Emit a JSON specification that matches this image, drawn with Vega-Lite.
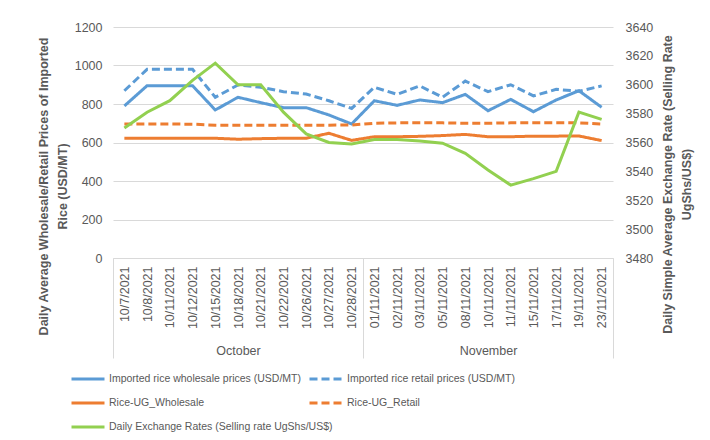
{
  "$schema": "https://vega.github.io/schema/vega-lite/v6.json",
  "width": 500,
  "height": 231,
  "autosize": {"type": "none"},
  "padding": {"left": 113, "top": 27, "right": 97, "bottom": 182},
  "config": {
    "font": "Liberation Sans",
    "view": {"stroke": null},
    "axis": {"labelColor": "#595959", "titleColor": "#595959", "labelFontSize": 12.5, "labelFont": "Liberation Sans", "titleFont": "Liberation Sans"},
    "legend": {"labelColor": "#595959", "labelFontSize": 10.5, "labelFont": "Liberation Sans"}
  },
  "data": {
    "values": [
      {"month": "October", "day": "Oct|10/7/2021", "Imported rice wholesale prices (USD/MT)": 790, "Imported rice retail prices (USD/MT)": 869, "Rice-UG_Wholesale": 622, "Rice-UG_Retail": 696, "Daily Exchange Rates (Selling rate UgShs/US$)": 3570},
      {"month": "October", "day": "Oct|10/8/2021", "Imported rice wholesale prices (USD/MT)": 895, "Imported rice retail prices (USD/MT)": 980, "Rice-UG_Wholesale": 622, "Rice-UG_Retail": 696, "Daily Exchange Rates (Selling rate UgShs/US$)": 3581},
      {"month": "October", "day": "Oct|10/11/2021", "Imported rice wholesale prices (USD/MT)": 895, "Imported rice retail prices (USD/MT)": 980, "Rice-UG_Wholesale": 622, "Rice-UG_Retail": 696, "Daily Exchange Rates (Selling rate UgShs/US$)": 3589},
      {"month": "October", "day": "Oct|10/12/2021", "Imported rice wholesale prices (USD/MT)": 895, "Imported rice retail prices (USD/MT)": 980, "Rice-UG_Wholesale": 622, "Rice-UG_Retail": 695, "Daily Exchange Rates (Selling rate UgShs/US$)": 3603},
      {"month": "October", "day": "Oct|10/15/2021", "Imported rice wholesale prices (USD/MT)": 769, "Imported rice retail prices (USD/MT)": 835, "Rice-UG_Wholesale": 622, "Rice-UG_Retail": 690, "Daily Exchange Rates (Selling rate UgShs/US$)": 3615},
      {"month": "October", "day": "Oct|10/18/2021", "Imported rice wholesale prices (USD/MT)": 835, "Imported rice retail prices (USD/MT)": 899, "Rice-UG_Wholesale": 617, "Rice-UG_Retail": 690, "Daily Exchange Rates (Selling rate UgShs/US$)": 3600},
      {"month": "October", "day": "Oct|10/21/2021", "Imported rice wholesale prices (USD/MT)": 807, "Imported rice retail prices (USD/MT)": 887, "Rice-UG_Wholesale": 620, "Rice-UG_Retail": 690, "Daily Exchange Rates (Selling rate UgShs/US$)": 3600},
      {"month": "October", "day": "Oct|10/22/2021", "Imported rice wholesale prices (USD/MT)": 781, "Imported rice retail prices (USD/MT)": 864, "Rice-UG_Wholesale": 622, "Rice-UG_Retail": 690, "Daily Exchange Rates (Selling rate UgShs/US$)": 3581},
      {"month": "October", "day": "Oct|10/26/2021", "Imported rice wholesale prices (USD/MT)": 781, "Imported rice retail prices (USD/MT)": 852, "Rice-UG_Wholesale": 622, "Rice-UG_Retail": 690, "Daily Exchange Rates (Selling rate UgShs/US$)": 3566},
      {"month": "October", "day": "Oct|10/27/2021", "Imported rice wholesale prices (USD/MT)": 743, "Imported rice retail prices (USD/MT)": 817, "Rice-UG_Wholesale": 648, "Rice-UG_Retail": 690, "Daily Exchange Rates (Selling rate UgShs/US$)": 3560},
      {"month": "October", "day": "Oct|10/28/2021", "Imported rice wholesale prices (USD/MT)": 696, "Imported rice retail prices (USD/MT)": 777, "Rice-UG_Wholesale": 611, "Rice-UG_Retail": 691, "Daily Exchange Rates (Selling rate UgShs/US$)": 3559},
      {"month": "November", "day": "Nov|01/11/2021", "Imported rice wholesale prices (USD/MT)": 817, "Imported rice retail prices (USD/MT)": 887, "Rice-UG_Wholesale": 630, "Rice-UG_Retail": 700, "Daily Exchange Rates (Selling rate UgShs/US$)": 3562},
      {"month": "November", "day": "Nov|02/11/2021", "Imported rice wholesale prices (USD/MT)": 793, "Imported rice retail prices (USD/MT)": 850, "Rice-UG_Wholesale": 630, "Rice-UG_Retail": 702, "Daily Exchange Rates (Selling rate UgShs/US$)": 3562},
      {"month": "November", "day": "Nov|03/11/2021", "Imported rice wholesale prices (USD/MT)": 821, "Imported rice retail prices (USD/MT)": 894, "Rice-UG_Wholesale": 632, "Rice-UG_Retail": 702, "Daily Exchange Rates (Selling rate UgShs/US$)": 3561},
      {"month": "November", "day": "Nov|05/11/2021", "Imported rice wholesale prices (USD/MT)": 807, "Imported rice retail prices (USD/MT)": 835, "Rice-UG_Wholesale": 636, "Rice-UG_Retail": 702, "Daily Exchange Rates (Selling rate UgShs/US$)": 3559.5},
      {"month": "November", "day": "Nov|08/11/2021", "Imported rice wholesale prices (USD/MT)": 850, "Imported rice retail prices (USD/MT)": 919, "Rice-UG_Wholesale": 642, "Rice-UG_Retail": 700, "Daily Exchange Rates (Selling rate UgShs/US$)": 3552.5},
      {"month": "November", "day": "Nov|10/11/2021", "Imported rice wholesale prices (USD/MT)": 765, "Imported rice retail prices (USD/MT)": 864, "Rice-UG_Wholesale": 630, "Rice-UG_Retail": 700, "Daily Exchange Rates (Selling rate UgShs/US$)": 3541},
      {"month": "November", "day": "Nov|11/11/2021", "Imported rice wholesale prices (USD/MT)": 824, "Imported rice retail prices (USD/MT)": 900, "Rice-UG_Wholesale": 630, "Rice-UG_Retail": 702, "Daily Exchange Rates (Selling rate UgShs/US$)": 3530.5},
      {"month": "November", "day": "Nov|15/11/2021", "Imported rice wholesale prices (USD/MT)": 760, "Imported rice retail prices (USD/MT)": 842, "Rice-UG_Wholesale": 633, "Rice-UG_Retail": 702, "Daily Exchange Rates (Selling rate UgShs/US$)": 3535},
      {"month": "November", "day": "Nov|17/11/2021", "Imported rice wholesale prices (USD/MT)": 821, "Imported rice retail prices (USD/MT)": 876, "Rice-UG_Wholesale": 633, "Rice-UG_Retail": 702, "Daily Exchange Rates (Selling rate UgShs/US$)": 3540},
      {"month": "November", "day": "Nov|19/11/2021", "Imported rice wholesale prices (USD/MT)": 869, "Imported rice retail prices (USD/MT)": 866, "Rice-UG_Wholesale": 634, "Rice-UG_Retail": 702, "Daily Exchange Rates (Selling rate UgShs/US$)": 3581},
      {"month": "November", "day": "Nov|23/11/2021", "Imported rice wholesale prices (USD/MT)": 783, "Imported rice retail prices (USD/MT)": 894, "Rice-UG_Wholesale": 610, "Rice-UG_Retail": 696, "Daily Exchange Rates (Selling rate UgShs/US$)": 3576}
    ]
  },
  "layer": [
    {
      "transform": [{"fold": ["Imported rice wholesale prices (USD/MT)", "Imported rice retail prices (USD/MT)", "Rice-UG_Wholesale", "Rice-UG_Retail"], "as": ["series", "value"]}],
      "mark": {"type": "line", "strokeWidth": 3},
      "encoding": {
        "x": {"field": "day", "type": "ordinal", "sort": null,
          "axis": {"orient": "bottom", "labelExpr": "split(datum.value, '|')[1]", "labelAngle": -90, "labelAlign": "right", "labelBaseline": "middle", "ticks": false, "domainColor": "#D9D9D9", "labelPadding": 8, "title": null, "grid": false}},
        "y": {"field": "value", "type": "quantitative", "scale": {"domain": [0, 1200], "nice": false},
          "axis": {"orient": "left", "values": [0, 200, 400, 600, 800, 1000, 1200], "format": "d", "grid": true, "gridColor": "#D9D9D9", "domain": false, "ticks": false, "labelPadding": 11,
            "title": ["Daily Average Wholesale/Retail Prices of Imported", "Rice (USD/MT)"], "titleFontWeight": "bold", "titleFontSize": 12.5, "titleX": -69.5, "titleY": 159, "titleLineHeight": 19, "titleBaseline": "middle", "titleAlign": "center", "titleAngle": 270}},
        "color": {"field": "series", "type": "nominal",
          "scale": {"domain": ["Imported rice wholesale prices (USD/MT)", "Imported rice retail prices (USD/MT)", "Rice-UG_Wholesale", "Rice-UG_Retail"], "range": ["#5B9BD5", "#5B9BD5", "#ED7D31", "#ED7D31"]},
          "legend": {"orient": "none", "direction": "horizontal", "legendX": -43, "legendY": 334, "columns": 2, "title": null, "symbolType": "stroke", "symbolSize": 1089, "symbolStrokeWidth": 3, "labelOffset": 3, "rowPadding": 0, "columnPadding": 2, "labelLimit": 300, "padding": 0}},
        "strokeDash": {"field": "series", "type": "nominal",
          "scale": {"domain": ["Imported rice wholesale prices (USD/MT)", "Imported rice retail prices (USD/MT)", "Rice-UG_Wholesale", "Rice-UG_Retail"], "range": [[1, 0], [8, 4], [1, 0], [8, 4]]},
          "legend": {"orient": "none", "direction": "horizontal", "legendX": -43, "legendY": 334, "columns": 2, "title": null, "symbolType": "stroke", "symbolSize": 1089, "symbolStrokeWidth": 3, "labelOffset": 3, "rowPadding": 0, "columnPadding": 2, "labelLimit": 300, "padding": 0}}
      }
    },
    {
      "transform": [{"fold": ["Daily Exchange Rates (Selling rate UgShs/US$)"], "as": ["series", "value"]}],
      "mark": {"type": "line", "strokeWidth": 3},
      "encoding": {
        "x": {"field": "day", "type": "ordinal", "sort": null, "axis": null},
        "y": {"field": "value", "type": "quantitative", "scale": {"domain": [3480, 3640], "nice": false, "zero": false},
          "axis": {"orient": "right", "values": [3480, 3500, 3520, 3540, 3560, 3580, 3600, 3620, 3640], "format": "d", "grid": false, "domain": false, "ticks": false, "labelPadding": 12,
            "title": ["Daily Simple Average Exchange Rate (Selling Rate", "UgShs/US$)"], "titleFontWeight": "bold", "titleFontSize": 12.5, "titleX": 54.5, "titleY": 157, "titleLineHeight": 19, "titleBaseline": "middle", "titleAlign": "center", "titleAngle": 270}},
        "stroke": {"field": "series", "type": "nominal",
          "scale": {"domain": ["Daily Exchange Rates (Selling rate UgShs/US$)"], "range": ["#92D050"]},
          "legend": {"orient": "none", "direction": "horizontal", "legendX": -43, "legendY": 382, "columns": 1, "title": null, "symbolType": "stroke", "symbolSize": 1089, "symbolStrokeWidth": 3, "labelOffset": 3, "rowPadding": 0, "padding": 0, "labelLimit": 300}}
      }
    },
    {
      "mark": {"type": "rule", "strokeOpacity": 0},
      "encoding": {
        "x": {"field": "month", "type": "ordinal", "sort": null, "scale": {"type": "band", "paddingInner": 0, "paddingOuter": 0},
          "axis": {"orient": "bottom", "domain": false, "ticks": true, "tickBand": "extent", "tickSize": 100, "tickColor": "#D9D9D9", "tickWidth": 1, "labelAngle": 0, "labelPadding": -14, "title": null, "grid": false}}
      }
    }
  ],
  "resolve": {"scale": {"x": "independent", "y": "independent"}}
}
